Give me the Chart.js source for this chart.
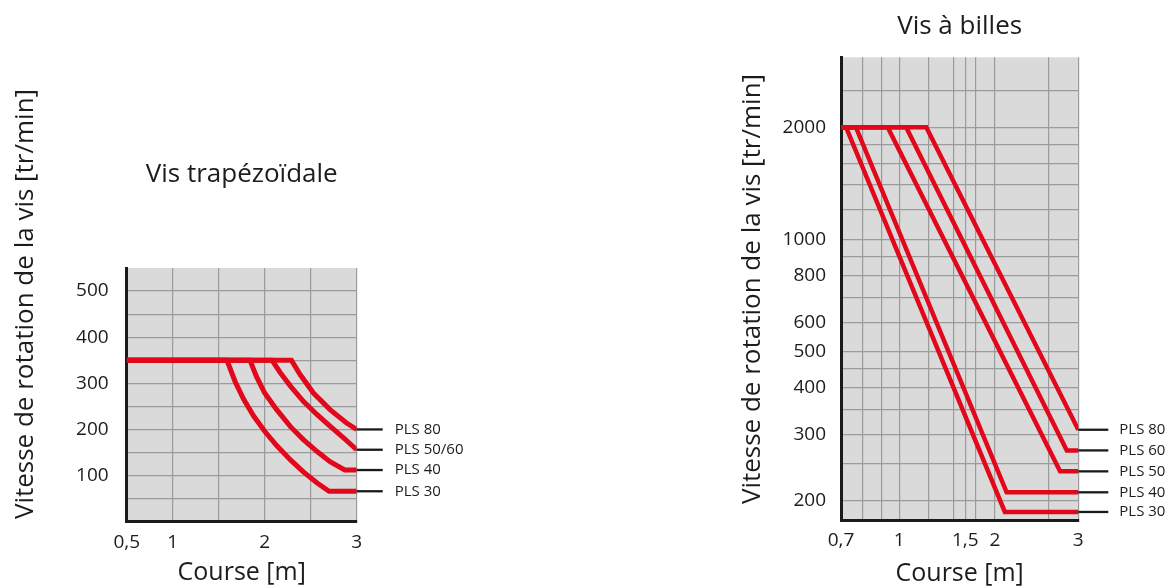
<!DOCTYPE html>
<html lang="fr">
<head>
<meta charset="utf-8">
<title>Vitesse de rotation de la vis</title>
<script src="https://cdn.jsdelivr.net/npm/chart.js@4.4.1/dist/chart.umd.min.js"></script>
<style>
  html, body { margin: 0; padding: 0; background: #fff; }
  body { width: 1167px; height: 586px; position: relative; overflow: hidden; }
  .box { position: absolute; top: 0; height: 586px; }
  #boxTrap { left: 0; width: 583px; }
  #boxBille { left: 583px; width: 584px; }
</style>
</head>
<body>
<div class="box" id="boxTrap"><canvas id="chartTrap" width="583" height="586"></canvas></div>
<div class="box" id="boxBille"><canvas id="chartBille" width="584" height="586"></canvas></div>
<script>
// ========================================
// Données : vis trapézoïdale (échelles linéaires)
// ========================================
const trapLabels = ['PLS 30', 'PLS 40', 'PLS 50/60', 'PLS 80'];

const trapCourse30 = [0.5, 1.59, 1.68, 1.77, 1.88, 2.0, 2.13, 2.28, 2.42, 2.57, 2.70, 3.0];
const trapSpeed30  = [350, 350, 303, 266, 229, 196, 165, 134, 108, 84, 66, 66];

const trapCourse40 = [0.5, 1.84, 1.91, 2.0, 2.13, 2.28, 2.42, 2.57, 2.71, 2.87, 3.0];
const trapSpeed40  = [350, 350, 315, 279, 243, 206, 178, 152, 130, 112, 112];

const trapCourse50 = [0.5, 2.08, 2.17, 2.28, 2.42, 2.57, 2.71, 2.86, 3.0];
const trapSpeed50  = [350, 350, 323, 294, 261, 232, 207, 181, 156];

const trapCourse80 = [0.5, 2.29, 2.385, 2.53, 2.71, 2.89, 3.0];
const trapSpeed80  = [350, 350, 319, 279, 243, 214, 200];

const trapXTicks  = [0.5, 1, 1.5, 2, 2.5, 3];
const trapXLabels = ['0,5', '1', '', '2', '', '3'];
const trapYTicks  = [50, 100, 150, 200, 250, 300, 350, 400, 450, 500];
const trapYLabels = ['', '100', '', '200', '', '300', '', '400', '', '500'];

// ========================================
// Données : vis à billes (échelles log)
// ========================================
const billeLabels = ['PLS 30', 'PLS 40', 'PLS 50', 'PLS 60', 'PLS 80'];

const billeCourse30 = [0.7, 0.722, 1.912, 3];
const billeSpeed30  = [2000, 2000, 186, 186];

const billeCourse40 = [0.7, 0.767, 1.933, 3];
const billeSpeed40  = [2000, 2000, 210, 210];

const billeCourse50 = [0.7, 0.932, 2.683, 3];
const billeSpeed50  = [2000, 2000, 239, 239];

const billeCourse60 = [0.7, 1.044, 2.796, 3];
const billeSpeed60  = [2000, 2000, 272, 272];

const billeCourse80 = [0.7, 1.181, 3];
const billeSpeed80  = [2000, 2000, 309];

const billeXTicks  = [0.7, 0.8, 0.9, 1, 1.2, 1.4, 1.5, 1.6, 1.8, 2.5, 3];
const billeXLabels = ['0,7', '', '', '1', '', '', '1,5', '', '2', '', '3'];
const billeYTicks  = [200, 250, 300, 350, 400, 450, 500, 600, 700, 800, 900, 1000, 1200, 1400, 1600, 1800, 2000, 2500];
const billeYLabels = ['200', '', '300', '', '400', '', '500', '600', '', '800', '', '1000', '', '', '', '', '2000', ''];

// ========================================
// Style commun
// ========================================
const FONT = "'Open Sans', 'Noto Sans', sans-serif";
const TEXT = '#1c1c1c';
const RED = '#e2071b';
const GRID = '#9b9b9b';

function toPoints(xs, ys) {
  return xs.map((x, i) => ({ x: x, y: ys[i] }));
}

function makeDatasets(labels, courses, speeds, width) {
  return labels.map((label, i) => ({
    label: label,
    data: toPoints(courses[i], speeds[i]),
    borderColor: RED,
    borderWidth: width,
    pointRadius: 0,
    tension: 0,
    fill: false
  }));
}

// fond gris de la zone de tracé
const plotBackground = {
  id: 'plotBackground',
  beforeDraw(chart, args, opts) {
    const { ctx, chartArea: a } = chart;
    ctx.save();
    ctx.fillStyle = opts.color;
    ctx.fillRect(a.left, a.top, a.width, a.height);
    ctx.restore();
  }
};

// traits noirs + noms des courbes à droite
const endLabels = {
  id: 'endLabels',
  afterDraw(chart, args, opts) {
    const { ctx, chartArea: a, scales } = chart;
    ctx.save();
    ctx.strokeStyle = '#1a1a1a';
    ctx.lineWidth = 2.3;
    ctx.fillStyle = TEXT;
    ctx.font = `15px ${FONT}`;
    ctx.textAlign = 'left';
    ctx.textBaseline = 'middle';
    chart.data.datasets.forEach(ds => {
      const last = ds.data[ds.data.length - 1];
      const py = scales.y.getPixelForValue(last.y);
      ctx.beginPath();
      ctx.moveTo(a.right, py);
      ctx.lineTo(a.right + opts.lineLength, py);
      ctx.stroke();
      ctx.fillText(ds.label, a.right + opts.textGap, py);
    });
    ctx.restore();
  }
};

// titre vertical de l'axe y
const sideTitle = {
  id: 'sideTitle',
  afterDraw(chart, args, opts) {
    const { ctx } = chart;
    ctx.save();
    ctx.translate(opts.x, opts.y);
    ctx.rotate(-Math.PI / 2);
    ctx.fillStyle = TEXT;
    ctx.font = `26px ${FONT}`;
    ctx.textAlign = 'center';
    ctx.textBaseline = 'middle';
    ctx.fillText(opts.text, 0, 0);
    ctx.restore();
  }
};

function axisBase() {
  return {
    grid: { color: GRID, lineWidth: 1.2, drawTicks: false },
    border: { display: true, color: '#1a1a1a', width: 3 }
  };
}

// ========================================
// Graphique gauche : vis trapézoïdale
// ========================================
new Chart(document.getElementById('chartTrap'), {
  type: 'line',
  data: {
    datasets: makeDatasets(
      trapLabels,
      [trapCourse30, trapCourse40, trapCourse50, trapCourse80],
      [trapSpeed30, trapSpeed40, trapSpeed50, trapSpeed80],
      5
    )
  },
  options: {
    responsive: false,
    animation: false,
    layout: { padding: { left: 0, right: 226.3, top: 0, bottom: 0 } },
    plugins: {
      legend: { display: false },
      tooltip: { enabled: false },
      title: {
        display: true,
        text: 'Vis trapézoïdale',
        fullSize: false,
        color: TEXT,
        font: { family: FONT, size: 26, weight: 'normal', lineHeight: 1.2 },
        padding: { top: 159.4, bottom: 77.4 }
      },
      plotBackground: { color: '#dadada' },
      endLabels: { lineLength: 26, textGap: 38 },
      sideTitle: { text: 'Vitesse de rotation de la vis [tr/min]', x: 26, y: 304 }
    },
    scales: {
      x: {
        type: 'linear',
        min: 0.5,
        max: 3,
        ...axisBase(),
        afterBuildTicks: s => { s.ticks = trapXTicks.map(v => ({ value: v })); },
        afterFit: s => { s.height = 64.3; },
        ticks: {
          autoSkip: false, maxRotation: 0, padding: 9, color: TEXT,
          font: { family: FONT, size: 19 },
          callback: (v, i) => trapXLabels[i]
        },
        title: {
          display: true, text: 'Course [m]', color: TEXT,
          font: { family: FONT, size: 25, lineHeight: 1 },
          padding: { top: 0, bottom: 0.8 }
        }
      },
      y: {
        type: 'linear',
        min: 0,
        max: 550,
        ...axisBase(),
        afterBuildTicks: s => { s.ticks = trapYTicks.map(v => ({ value: v })); },
        afterFit: s => { s.width = 126.7; },
        ticks: {
          autoSkip: false, padding: 18, color: TEXT,
          font: { family: FONT, size: 19 },
          callback: (v, i) => trapYLabels[i]
        }
      }
    }
  },
  plugins: [plotBackground, endLabels, sideTitle]
});

// ========================================
// Graphique droit : vis à billes
// ========================================
new Chart(document.getElementById('chartBille'), {
  type: 'line',
  data: {
    datasets: makeDatasets(
      billeLabels,
      [billeCourse30, billeCourse40, billeCourse50, billeCourse60, billeCourse80],
      [billeSpeed30, billeSpeed40, billeSpeed50, billeSpeed60, billeSpeed80],
      4.5
    )
  },
  options: {
    responsive: false,
    animation: false,
    layout: { padding: { left: 0, right: 88.7, top: 0, bottom: 0 } },
    plugins: {
      legend: { display: false },
      tooltip: { enabled: false },
      title: {
        display: true,
        text: 'Vis à billes',
        fullSize: false,
        color: TEXT,
        font: { family: FONT, size: 26, weight: 'normal', lineHeight: 1.2 },
        padding: { top: 11.1, bottom: 15 }
      },
      plotBackground: { color: '#dadada' },
      endLabels: { lineLength: 30, textGap: 41 },
      sideTitle: { text: 'Vitesse de rotation de la vis [tr/min]', x: 170, y: 289 }
    },
    scales: {
      x: {
        type: 'logarithmic',
        min: 0.7,
        max: 3,
        ...axisBase(),
        afterBuildTicks: s => { s.ticks = billeXTicks.map(v => ({ value: v })); },
        afterFit: s => { s.height = 66; },
        ticks: {
          autoSkip: false, maxRotation: 0, padding: 9, color: TEXT,
          font: { family: FONT, size: 19 },
          callback: (v, i) => billeXLabels[i]
        },
        title: {
          display: true, text: 'Course [m]', color: TEXT,
          font: { family: FONT, size: 25, lineHeight: 1 },
          padding: { top: 0, bottom: 0 }
        }
      },
      y: {
        type: 'logarithmic',
        min: 177,
        max: 3080,
        ...axisBase(),
        afterBuildTicks: s => { s.ticks = billeYTicks.map(v => ({ value: v })); },
        afterFit: s => { s.width = 258; },
        ticks: {
          autoSkip: false, padding: 15, color: TEXT,
          font: { family: FONT, size: 19 },
          callback: (v, i) => billeYLabels[i]
        }
      }
    }
  },
  plugins: [plotBackground, endLabels, sideTitle]
});
</script>
</body>
</html>
